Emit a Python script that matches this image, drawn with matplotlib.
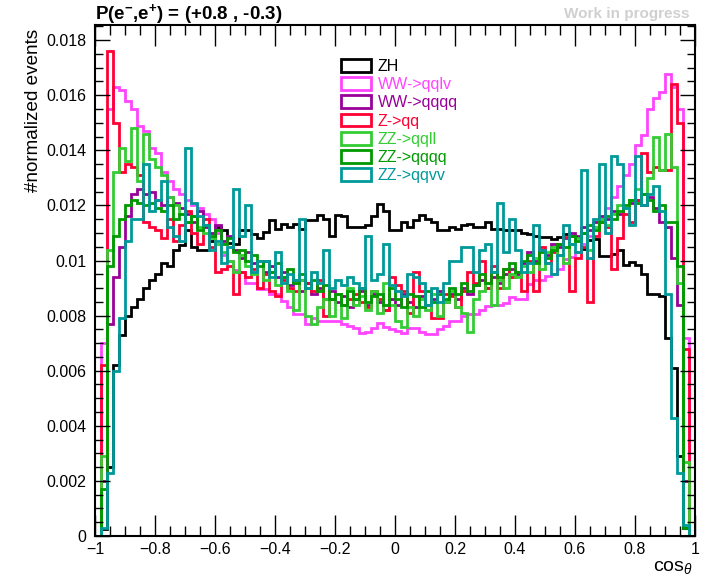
import numpy as np
import matplotlib
matplotlib.use("Agg")
import matplotlib.pyplot as plt
from matplotlib.patches import Patch
from matplotlib.ticker import MultipleLocator

plt.rcParams['font.family'] = ['Liberation Sans', 'DejaVu Sans']
plt.rcParams['mathtext.fontset'] = 'custom'
plt.rcParams['mathtext.rm'] = 'Liberation Sans'
plt.rcParams['mathtext.it'] = 'Liberation Sans:italic'
plt.rcParams['mathtext.bf'] = 'Liberation Sans:bold'

# ── Data: 100 bins in cos(theta), values in units of 1e-3 ────────────────────
edges = np.linspace(-1.0, 1.0, 101)

zh = [0.0, 0.25, 2.5, 6.2, 7.3, 8.0, 8.3, 8.6, 9.0, 9.3,
      9.5, 9.9, 9.8, 10.4, 10.55, 11.1, 10.5, 10.4, 10.4, 10.7,
      11.2, 11.1, 10.65, 10.6, 11.1, 11.1, 10.97, 10.83, 11.03, 11.46,
      11.16, 11.34, 11.2, 11.34, 11.16, 11.46, 11.46, 11.64, 11.5, 10.9,
      11.64, 11.6, 11.2, 11.2, 11.2, 11.3, 11.6, 12.07, 11.8, 11.1,
      11.1, 11.4, 11.2, 11.46, 11.64, 11.5, 11.4, 11.1, 11.1, 11.2,
      11.16, 11.3, 11.34, 11.2, 11.2, 11.4, 11.16, 11.16, 11.1, 11.1,
      11.1, 11.0, 10.97, 10.9, 10.85, 10.85, 10.78, 10.85, 10.95, 10.9,
      10.85, 10.43, 10.73, 10.78, 10.18, 10.18, 10.24, 10.4, 9.82, 9.94,
      9.82, 9.51, 8.78, 8.78, 8.7, 7.2, 6.1, 2.9, 0.3, 0.0]

ww_qqlv = [0.0, 7.0, 15.5, 16.3, 16.2, 15.8, 15.5, 14.9, 14.7, 14.1,
           13.9, 13.2, 12.9, 12.6, 12.4, 12.2, 12.0, 11.9, 11.7, 11.5,
           11.0, 10.2, 10.0, 9.64, 9.6, 9.2, 9.2, 8.97, 8.97, 8.8,
           8.78, 8.54, 8.3, 8.05, 8.05, 7.69, 7.93, 7.8, 7.8, 7.8,
           7.8, 7.7, 7.63, 7.55, 7.38, 7.4, 7.56, 7.74, 7.6, 7.5,
           7.44, 7.38, 7.56, 7.56, 7.4, 7.32, 7.32, 7.5, 7.63, 7.8,
           7.8, 8.0, 8.05, 8.05, 8.2, 8.36, 8.4, 8.4, 8.45, 8.66,
           8.6, 8.6, 9.15, 9.3, 9.3, 9.44, 9.5, 9.7, 10.07, 10.13,
           10.3, 10.6, 10.9, 11.2, 11.5, 11.9, 12.3, 12.7, 13.1, 13.5,
           14.2, 14.56, 15.5, 15.9, 16.1, 16.78, 16.3, 15.5, 7.2, 0.0]

ww_qqqq = [0.0, 2.0, 7.7, 9.4, 10.5, 11.6, 12.4, 12.6, 12.4, 12.5,
           12.2, 12.0, 12.3, 12.1, 11.9, 11.7, 11.4, 11.8, 11.2, 11.0,
           11.3, 10.7, 10.9, 10.4, 10.1, 10.3, 9.9, 10.0, 9.6, 9.8,
           9.4, 9.6, 9.1, 9.3, 8.9, 9.2, 8.8, 9.0, 8.6, 8.9,
           8.5, 8.7, 8.3, 8.6, 8.9, 8.4, 8.8, 8.5, 8.2, 8.6,
           8.4, 8.8, 8.5, 8.3, 8.7, 8.4, 8.6, 8.9, 8.5, 8.8,
           8.6, 9.0, 8.8, 9.1, 9.3, 9.0, 9.4, 9.2, 9.5, 9.7,
           9.5, 9.9, 10.3, 10.0, 10.4, 10.2, 10.6, 10.5, 10.8, 11.0,
           10.9, 11.2, 11.1, 11.4, 11.6, 11.5, 11.8, 11.7, 11.9, 12.1,
           12.2, 12.0, 12.3, 11.9, 11.4, 11.2, 10.1, 8.4, 2.0, 0.0]

z_qq = [0.0, 6.2, 17.6, 15.0, 13.2, 13.5, 13.4, 13.1, 11.4, 11.2,
        11.1, 10.8, 11.5, 10.7, 11.3, 11.8, 11.0, 10.6, 11.5, 10.5,
        9.6, 9.7, 9.8, 8.8, 9.6, 9.4, 9.7, 9.0, 9.5, 8.9,
        8.7, 9.3, 9.0, 8.9, 9.3, 9.2, 8.9, 9.3, 8.0, 8.6,
        8.8, 8.4, 8.6, 8.8, 8.5, 8.3, 8.9, 8.6, 8.2, 9.4,
        9.1, 8.9, 8.1, 9.6, 8.9, 8.4, 7.9, 7.9, 8.8, 8.7,
        8.3, 8.9, 9.6, 9.2, 10.0, 9.0, 9.8, 9.0, 9.7, 9.4,
        9.6, 8.9, 10.0, 8.9, 10.5, 9.9, 10.3, 10.6, 10.85, 8.9,
        10.1, 10.5, 8.5, 10.9, 11.4, 11.2, 9.7, 10.8, 11.7, 11.4,
        12.2, 13.9, 13.2, 13.4, 13.3, 13.3, 16.4, 15.0, 6.8, 0.0]

zz_qqll = [0.0, 2.9, 10.4, 13.2, 14.1, 13.6, 14.8, 12.9, 14.6, 13.7,
           13.4, 13.1, 12.3, 12.0, 11.7, 11.4, 11.6, 11.2, 11.0, 10.8,
           10.6, 10.3, 10.0, 9.6, 10.2, 9.8, 9.5, 10.0, 9.3, 9.6,
           9.1, 9.4, 8.9, 8.2, 9.3, 8.0, 7.7, 8.3, 8.6, 8.0,
           8.8, 7.9, 9.0, 8.4, 8.7, 8.2, 8.9, 8.1, 9.2, 8.4,
           7.8, 7.6, 8.3, 8.0, 8.6, 8.2, 8.8, 8.0, 8.5, 8.9,
           8.3, 8.1, 7.4, 8.6, 8.9, 9.2, 8.4, 9.3, 9.0, 9.5,
           9.4, 9.8, 9.6, 10.1, 9.7, 10.3, 10.5, 10.2, 9.9, 10.6,
           10.8, 11.0, 10.4, 11.2, 11.5, 11.3, 11.7, 12.0, 11.9, 12.2,
           12.6, 12.4, 13.0, 14.5, 13.3, 14.6, 13.4, 9.2, 2.7, 0.0]

zz_qqqq = [0.0, 1.7, 9.8, 10.9, 11.5, 12.0, 12.2, 12.1, 12.0, 12.1,
           11.9, 11.8, 12.0, 11.5, 11.7, 11.4, 11.6, 11.1, 11.3, 10.9,
           11.1, 10.6, 10.8, 10.3, 10.4, 10.0, 10.2, 9.8, 10.0, 9.6,
           9.9, 9.4, 9.7, 9.2, 9.5, 9.0, 9.3, 8.9, 9.1, 8.6,
           8.8, 8.4, 8.9, 8.6, 9.0, 8.5, 8.7, 8.8, 8.4, 9.0,
           8.6, 8.3, 8.8, 8.7, 8.3, 8.9, 8.5, 8.8, 8.6, 9.0,
           8.8, 9.2, 8.9, 9.1, 9.5, 9.2, 9.6, 9.4, 9.7, 9.9,
           9.6, 10.0, 10.2, 9.9, 10.3, 10.1, 10.4, 10.6, 10.5, 10.9,
           10.7, 11.0, 11.3, 11.1, 11.4, 11.6, 11.5, 11.8, 12.0, 12.2,
           12.1, 12.4, 12.2, 11.8, 12.0, 11.4, 11.4, 9.8, 0.3, 0.0]

zz_qqvv = [0.0, 0.3, 2.3, 6.0, 7.9, 10.7, 11.5, 11.5, 13.5, 11.8,
           12.2, 12.9, 11.2, 10.9, 10.7, 14.1, 12.1, 11.6, 11.3, 10.4,
           10.7, 9.9, 10.5, 12.6, 10.9, 12.0, 9.6, 10.0, 10.0, 9.4,
           10.3, 9.2, 9.5, 9.3, 11.5, 9.0, 9.6, 9.2, 10.4, 9.0,
           9.3, 9.1, 9.4, 9.2, 9.0, 10.9, 9.3, 9.5, 10.6, 9.1,
           8.9, 8.7, 9.5, 9.4, 9.2, 8.4, 9.0, 8.5, 9.2, 10.0,
           10.0, 10.5, 10.5, 9.6, 10.4, 10.6, 9.6, 12.1, 10.3, 11.5,
           10.4, 9.6, 9.9, 11.3, 10.4, 9.9, 9.5, 10.2, 11.3, 10.6,
           10.3, 13.3, 10.1, 11.5, 13.5, 11.0, 13.8, 13.5, 11.9, 11.3,
           13.8, 12.0, 12.4, 12.7, 11.8, 8.8, 4.3, 2.3, 0.4, 0.0]

labels = ["ZH", "WW->qqlv", "WW->qqqq", "Z->qq", "ZZ->qqll", "ZZ->qqqq", "ZZ->qqvv"]
series = [zh, ww_qqlv, ww_qqqq, z_qq, zz_qqll, zz_qqqq, zz_qqvv]
colors = ["#000000", "#ff44ff", "#990099", "#ff0033", "#33cc33", "#009900", "#009999"]

# ── Figure ───────────────────────────────────────────────────────────────────
fig = plt.figure(figsize=(7.07, 5.78), dpi=100)
ax = fig.add_axes([95 / 707, 1 - 536 / 578, 600 / 707, 511 / 578])

for vals, c in zip(series, colors):
    ax.stairs(np.array(vals) * 1e-3, edges, color=c, lw=2.0)

ax.set_xlim(-1, 1)
ax.set_ylim(0, 0.01855)

xt = np.linspace(-1, 1, 11)
ax.set_xticks(xt, ["\u22121", "\u22120.8", "\u22120.6", "\u22120.4", "\u22120.2", "0",
                   "0.2", "0.4", "0.6", "0.8", "1"])
yt = np.arange(0, 0.0181, 0.002)
ax.set_yticks(yt, ["0", "0.002", "0.004", "0.006", "0.008", "0.01",
                   "0.012", "0.014", "0.016", "0.018"])
ax.xaxis.set_minor_locator(MultipleLocator(0.05))
ax.yaxis.set_minor_locator(MultipleLocator(0.0005))
ax.tick_params(which="both", direction="in", top=True, right=True, labelsize=11.5)
ax.tick_params(axis="x", which="major", length=15, width=1, pad=4)
ax.tick_params(axis="x", which="minor", length=7.5, width=1)
ax.tick_params(axis="y", which="major", length=11, width=1, pad=6)
ax.tick_params(axis="y", which="minor", length=6, width=1)
for s in ax.spines.values():
    s.set_linewidth(1.5)

fig.text(95 / 707, 1 - 14 / 578, r"P(e$^{\mathbf{-}}$,e$^{\mathbf{+}}$) = (+0.8 , -0.3)",
         fontsize=13.5, fontweight="bold", ha="left", va="center")
fig.text(690 / 707, 1 - 14 / 578, "Work in progress", fontsize=11, fontweight="bold",
         color="#d0d0d0", ha="right", va="center")
fig.text(34 / 707, 1 - 29 / 578, "#normalized events", fontsize=13.6, rotation=90,
         ha="center", va="top")
fig.text(693 / 707, 1 - 576 / 578, r"cos$_{\theta}$", fontsize=14, ha="right", va="bottom")

handles = [Patch(facecolor="none", edgecolor=c, lw=2.0) for c in colors]
ax.legend(handles, labels, loc="upper left", bbox_to_anchor=(341 / 707, 1 - 59 / 578),
          bbox_transform=fig.transFigure, frameon=False, fontsize=11.5,
          labelcolor=colors, handlelength=1.9, handleheight=0.85,
          handletextpad=0.4, labelspacing=0.2, borderpad=0, borderaxespad=0)

fig.savefig("out.png", dpi=100)
